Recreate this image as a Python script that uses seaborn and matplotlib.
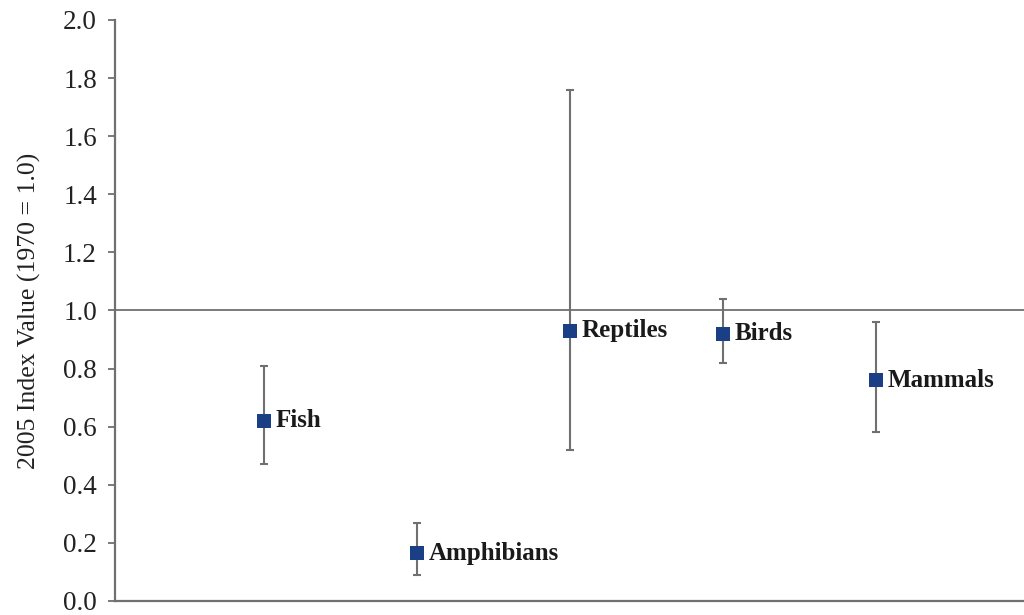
import matplotlib
matplotlib.use("Agg")
import matplotlib.pyplot as plt
import seaborn as sns
import pandas as pd

categories = ["Fish", "Amphibians", "Reptiles", "Birds", "Mammals"]
index_values = [0.62, 0.165, 0.93, 0.92, 0.76]
upper_bounds = [0.81, 0.27, 1.76, 1.04, 0.96]
lower_bounds = [0.47, 0.09, 0.52, 0.82, 0.58]
y_ticks = [0.0, 0.2, 0.4, 0.6, 0.8, 1.0, 1.2, 1.4, 1.6, 1.8, 2.0]

df = pd.DataFrame({"cat": categories, "val": index_values,
                   "hi": upper_bounds, "lo": lower_bounds})
df["pos"] = range(len(df))

sns.set_style("white")
plt.rcParams["font.family"] = ["Liberation Serif", "DejaVu Serif"]

fig = plt.figure(figsize=(10.24, 6.15), dpi=100)
ax = fig.add_axes([0.1123, 0.0228, 0.8877, 0.9447])

gray = "#707070"
ax.axhline(1.0, color=gray, lw=1.3, zorder=1)
ax.errorbar(df["pos"], df["val"],
            yerr=[df["val"] - df["lo"], df["hi"] - df["val"]],
            fmt="none", ecolor=gray, elinewidth=1.5, capsize=3, capthick=1.5, zorder=2)
sns.scatterplot(data=df, x="pos", y="val", marker="s", s=110, color="#1b3f85",
                edgecolor="#1b3f85", linewidth=0, ax=ax, zorder=3, legend=False)

for _, r in df.iterrows():
    ax.annotate(r["cat"], (r["pos"], r["val"]), xytext=(8.5, 0), textcoords="offset points",
                va="center", ha="left", fontsize=18, fontweight="bold", color="#1a1a1a")

ax.set_xlim(-0.975, 4.97)
ax.set_ylim(0, 2.0)
ax.set_yticks(y_ticks)
ax.set_yticklabels([f"{t:.1f}" for t in y_ticks], fontsize=19.5, color="#222222")
ax.set_xticks([])
ax.set_xlabel("")
ax.set_ylabel("2005 Index Value (1970 = 1.0)", fontsize=18.5, color="#222222", labelpad=16)
ax.tick_params(axis="y", which="major", direction="out", length=5, width=1.3,
               color=gray, left=True, pad=8)
for s in ["top", "right"]:
    ax.spines[s].set_visible(False)
for s in ["left", "bottom"]:
    ax.spines[s].set_color(gray)
    ax.spines[s].set_linewidth(1.6)

fig.savefig("out.png", dpi=100)
